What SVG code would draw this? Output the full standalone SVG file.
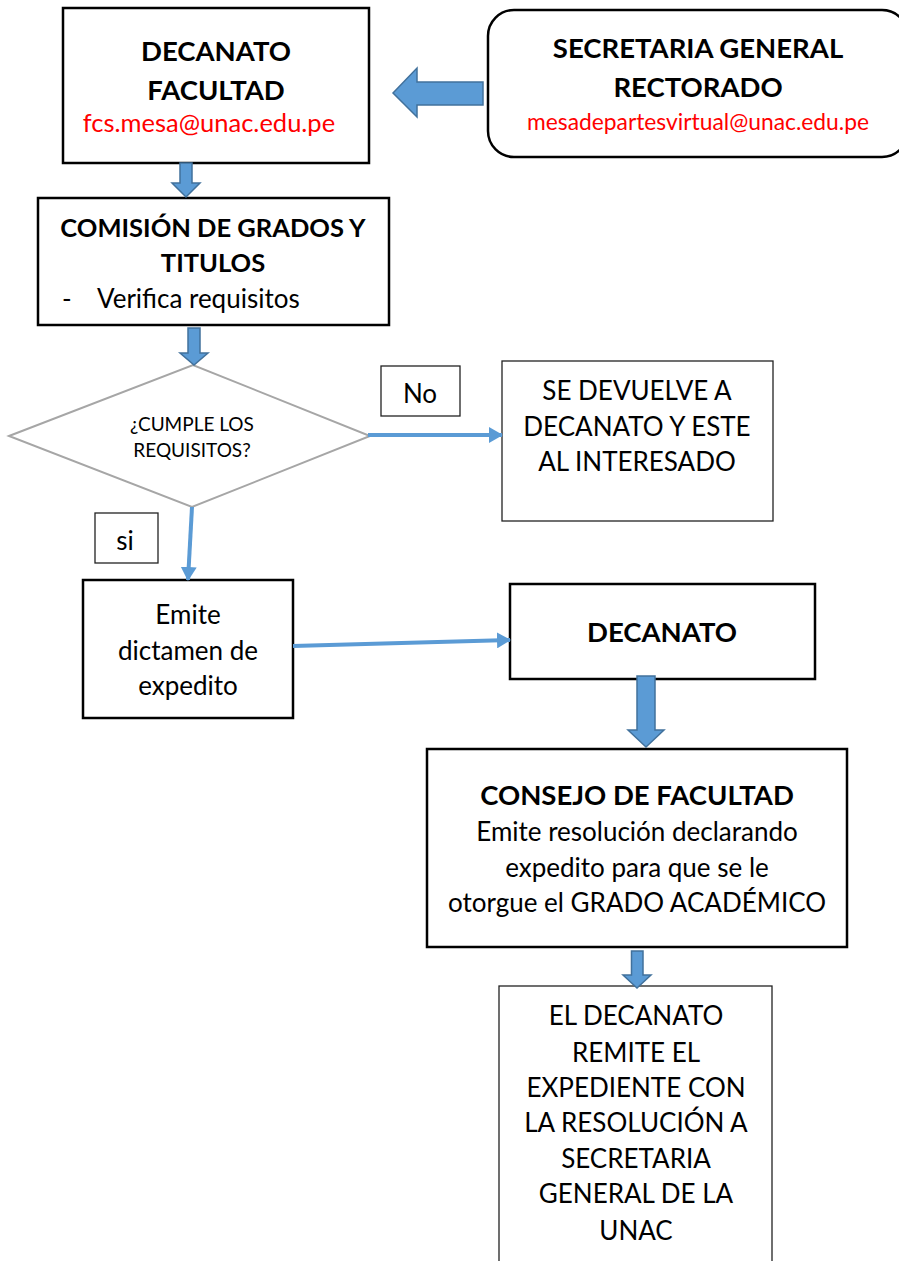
<svg xmlns="http://www.w3.org/2000/svg" width="899" height="1261" viewBox="0 0 899 1261">
<style>
.bx{fill:#fff;stroke:#000;stroke-width:2.5}
.bt{fill:#fff;stroke:#222;stroke-width:1.3}
.t{font-family:Lato,"Liberation Sans",sans-serif;fill:#000;text-anchor:middle}
.b{font-weight:bold;font-size:27.5px}
.r{font-size:26px}
.em{fill:#ff0000}
.blk{fill:#5b9bd5;stroke:#41719c;stroke-width:1.5}
.ln{fill:none;stroke:#5b9bd5;stroke-width:4}
</style>
<defs>
<marker id="ah" viewBox="0 0 14 16" refX="13" refY="8" markerWidth="14" markerHeight="16" markerUnits="userSpaceOnUse" orient="auto">
<path d="M0,0 L14,8 L0,16 z" fill="#5b9bd5"/>
</marker>
</defs>
<rect width="899" height="1261" fill="#fff"/>
<g id="decanato-facultad">
<rect class="bx" x="63" y="8" width="306" height="155"/>
<text class="t b" x="216" y="61">DECANATO</text>
<text class="t b" x="216" y="100">FACULTAD</text>
<text class="t em" x="209" y="132" font-size="25.5">fcs.mesa@unac.edu.pe</text>
</g>
<g id="secretaria-general">
<rect class="bx" x="488" y="10" width="420" height="147" rx="26"/>
<text class="t b" x="698" y="58">SECRETARIA GENERAL</text>
<text class="t b" x="698" y="97">RECTORADO</text>
<text class="t em" x="698" y="130" font-size="22.8">mesadepartesvirtual@unac.edu.pe</text>
</g>
<g id="comision">
<rect class="bx" x="38" y="198" width="351" height="127"/>
<text class="t b" x="213" y="237" style="font-size:25.5px">COMISIÓN DE GRADOS Y</text>
<text class="t b" x="213" y="272" style="font-size:25.5px">TITULOS</text>
<text class="t r" x="62" y="308" style="text-anchor:start">-</text>
<text class="t r" x="97" y="308" style="text-anchor:start">Verifica requisitos</text>
</g>
<g id="decision">
<polygon points="9,436 193,365 370,436 192,507" fill="#fff" stroke="#a6a6a6" stroke-width="2"/>
<text class="t" x="192" y="431" font-size="19">¿CUMPLE LOS</text>
<text class="t" x="192" y="457" font-size="19">REQUISITOS?</text>
</g>
<g id="label-no">
<rect class="bt" x="381" y="366" width="79" height="50"/>
<text class="t r" x="420" y="403">No</text>
</g>
<g id="devuelve">
<rect class="bt" x="502" y="361" width="271" height="160"/>
<text class="t r" x="637" y="400">SE DEVUELVE A</text>
<text class="t r" x="637" y="436">DECANATO Y ESTE</text>
<text class="t r" x="637" y="471">AL INTERESADO</text>
</g>
<g id="label-si">
<rect class="bt" x="95" y="513" width="63" height="50"/>
<text class="t r" x="125" y="550">si</text>
</g>
<g id="emite-dictamen">
<rect class="bx" x="83" y="580" width="210" height="138"/>
<text class="t r" x="188" y="624">Emite</text>
<text class="t r" x="188" y="660">dictamen de</text>
<text class="t r" x="188" y="695">expedito</text>
</g>
<g id="decanato">
<rect class="bx" x="510" y="584" width="305" height="95"/>
<text class="t b" x="662" y="642">DECANATO</text>
</g>
<g id="consejo">
<rect class="bx" x="427" y="749" width="420" height="198"/>
<text class="t b" x="637" y="805">CONSEJO DE FACULTAD</text>
<text class="t r" x="637" y="841">Emite resolución declarando</text>
<text class="t r" x="637" y="877">expedito para que se le</text>
<text class="t r" x="637" y="912">otorgue el GRADO ACADÉMICO</text>
</g>
<g id="remite">
<rect class="bt" x="499" y="986" width="273" height="290"/>
<text class="t r" x="636" y="1025">EL DECANATO</text>
<text class="t r" x="636" y="1062">REMITE EL</text>
<text class="t r" x="636" y="1097">EXPEDIENTE CON</text>
<text class="t r" x="636" y="1132">LA RESOLUCIÓN A</text>
<text class="t r" x="636" y="1168">SECRETARIA</text>
<text class="t r" x="636" y="1203">GENERAL DE LA</text>
<text class="t r" x="636" y="1240">UNAC</text>
</g>
<g id="connectors">
<polygon class="blk" points="393,93 417,68 417,82 483,82 483,105 417,105 417,117"/>
<polygon class="blk" points="180,163 192,163 192,183 200,183 186,197 172,183 180,183"/>
<polygon class="blk" points="188,328 200,328 200,353 208,353 194,365 180,353 188,353"/>
<polygon class="blk" points="637,676 655,676 655,730 664,730 646,747 628,730 637,730"/>
<polygon class="blk" points="631.5,951 643,951 643,975 651,975 637,988 623,975 631.5,975"/>
<line class="ln" x1="368" y1="435" x2="502" y2="435" marker-end="url(#ah)"/>
<line class="ln" x1="192" y1="507" x2="188" y2="580" marker-end="url(#ah)"/>
<line class="ln" x1="293" y1="646" x2="510" y2="640" marker-end="url(#ah)"/>
</g>
</svg>
